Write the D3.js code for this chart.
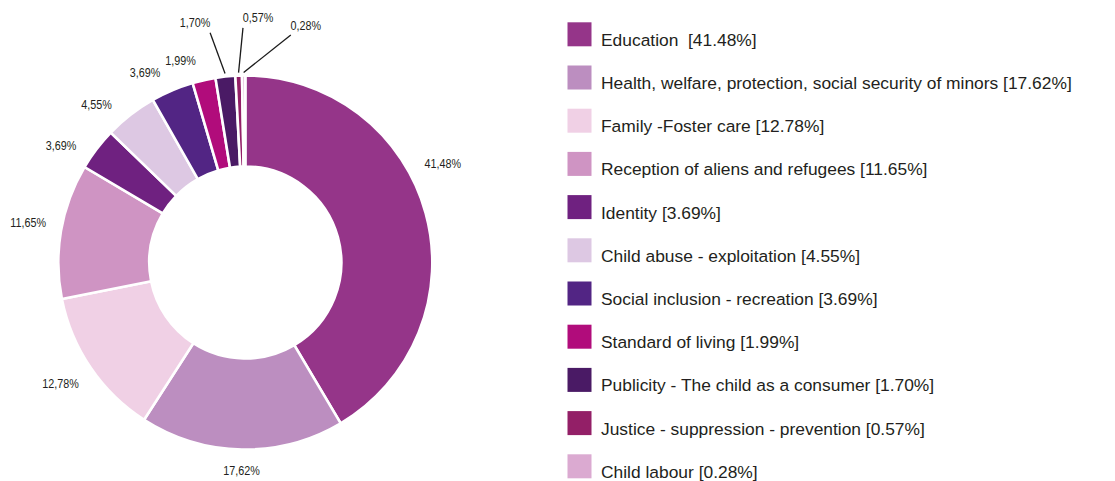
<!DOCTYPE html>
<html>
<head>
<meta charset="utf-8">
<script src="https://cdn.jsdelivr.net/npm/d3@7"></script>
<style>
  html, body { margin: 0; padding: 0; background: #ffffff; }
  svg { display: block; }
</style>
</head>
<body>
<svg id="chart" width="1115" height="481"></svg>
<script>
// Share of cases by thematic area (%)
const categories = [
  "Education ",
  "Health, welfare, protection, social security of minors",
  "Family -Foster care",
  "Reception of aliens and refugees",
  "Identity",
  "Child abuse - exploitation",
  "Social inclusion - recreation",
  "Standard of living",
  "Publicity - The child as a consumer",
  "Justice - suppression - prevention",
  "Child labour"
];
const shares = [41.48, 17.62, 12.78, 11.65, 3.69, 4.55, 3.69, 1.99, 1.70, 0.57, 0.28];
const colors = [
  "#953589", "#bc8ec0", "#f0d0e5", "#cf94c3", "#6f2180", "#ddc8e3",
  "#522584", "#b10c7b", "#4a1a65", "#931f67", "#dbaad1"
];
// Small slices whose labels are lifted out with a leader line
const leaderSlices = ["Publicity - The child as a consumer", "Justice - suppression - prevention", "Child labour"];
// Angular nudge (degrees) for each value label, to keep crowded labels apart
const labelNudge = [-11.4, 0, 1.1, 0.6, -5, -5.5, -4.9, -5, -5.7, 5, 14.8];

const rows = categories.map((name, i) => ({ name, value: shares[i], color: colors[i], nudge: labelNudge[i] }));

const svg = d3.select("#chart");
const cx = 245.3, cy = 262.5;
const outerR = 187, innerR = 96;

const pie = d3.pie().sort(null).value(d => d.value).startAngle(0).endAngle(2 * Math.PI);
const arc = d3.arc().innerRadius(innerR).outerRadius(outerR);
const arcs = pie(rows);

const g = svg.append("g").attr("transform", `translate(${cx},${cy})`);

g.selectAll("path.slice")
  .data(arcs)
  .join("path")
  .attr("class", "slice")
  .attr("d", arc)
  .attr("fill", d => d.data.color)
  .attr("stroke", "#ffffff")
  .attr("stroke-width", 2.6)
  .attr("stroke-linejoin", "miter");

// Value labels, decimal comma, set in a condensed face
const fmt = v => v.toFixed(2).replace(".", ",") + "%";
const polar = (r, a) => [r * Math.sin(a), -r * Math.cos(a)];
const squeeze = 0.83;

const labels = g.selectAll("g.lbl")
  .data(arcs)
  .join("g")
  .attr("class", "lbl");

labels.each(function(d) {
  const sel = d3.select(this);
  const mid = (d.startAngle + d.endAngle) / 2;
  const theta = mid + d.data.nudge * Math.PI / 180;
  const holder = sel.append("g");
  const text = holder.append("text")
    .attr("text-anchor", "middle")
    .attr("dy", "0.35em")
    .attr("font-family", "'Liberation Sans', Arial, sans-serif")
    .attr("font-size", 13)
    .attr("fill", "#231f20")
    .text(fmt(d.data.value));
  const w = text.node().getComputedTextLength() * squeeze;
  const h = 12;
  let lx, ly;
  if (leaderSlices.includes(d.data.name)) {
    [lx, ly] = polar(245, theta);
    const [ex, ey] = polar(outerR + 3, mid);
    const dir = ex > lx ? 1 : -1;
    sel.append("line")
      .attr("x1", lx + dir * 15).attr("y1", ly + 10)
      .attr("x2", ex).attr("y2", ey)
      .attr("stroke", "#1a1a1a")
      .attr("stroke-width", 1.3);
  } else {
    const r = 202 + (w / 2) * Math.abs(Math.sin(theta)) + (h / 2) * Math.abs(Math.cos(theta));
    [lx, ly] = polar(r, theta);
  }
  holder.attr("transform", `translate(${lx},${ly}) scale(${squeeze},1)`);
});

// Legend
const legendY = d3.scalePoint().domain(categories).range([22.3, 454.3]);
const legend = svg.append("g").attr("class", "legend");
const item = legend.selectAll("g.item")
  .data(rows)
  .join("g")
  .attr("class", "item")
  .attr("transform", d => `translate(567.5,${legendY(d.name)})`);

item.append("rect")
  .attr("width", 24)
  .attr("height", 24)
  .attr("fill", d => d.color);

item.append("text")
  .attr("x", 33.5)
  .attr("y", 23.5)
  .attr("font-family", "'Liberation Sans', Arial, sans-serif")
  .attr("font-size", 17.4)
  .attr("fill", "#231f20")
  .style("white-space", "pre")
  .text(d => `${d.name} [${d.value.toFixed(2)}%]`);
</script>
</body>
</html>
